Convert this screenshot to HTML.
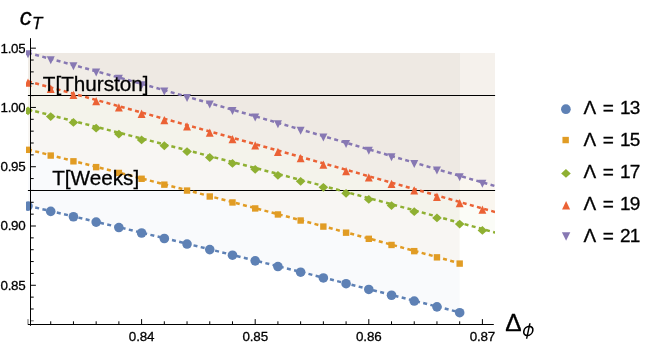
<!DOCTYPE html><html><head><meta charset="utf-8"><title>plot</title><style>
html,body{margin:0;padding:0;background:#fff}
#c{position:relative;width:651px;height:346px;overflow:hidden;background:#fff;font-family:"Liberation Sans",sans-serif;color:#000}
.t{position:absolute;white-space:nowrap;line-height:1;will-change:transform;-webkit-text-stroke:0.3px #000}
</style></head><body><div id="c">
<svg width="651" height="346" viewBox="0 0 651 346" style="position:absolute;left:0;top:0">
<defs><clipPath id="cp"><rect x="26.0" y="40" width="468.9" height="290"/></clipPath></defs>
<g clip-path="url(#cp)">
<path d="M28.00 205.81 L50.72 211.10 L73.44 216.44 L96.16 221.82 L118.88 227.24 L141.60 232.71 L164.32 238.21 L187.04 243.75 L209.76 249.32 L232.48 254.93 L255.20 260.57 L277.92 266.23 L300.64 271.93 L323.36 277.65 L346.08 283.39 L368.80 289.16 L391.52 294.94 L414.24 300.75 L436.96 306.57 L459.68 312.40 L459.68 53.0 L28.00 53.0 Z" fill="#5e81b5" fill-opacity="0.038"/>
<path d="M28.00 149.53 L50.72 155.26 L73.44 161.02 L96.16 166.81 L118.88 172.63 L141.60 178.47 L164.32 184.35 L187.04 190.26 L209.76 196.19 L232.48 202.15 L255.20 208.14 L277.92 214.16 L300.64 220.21 L323.36 226.28 L346.08 232.38 L368.80 238.51 L391.52 244.66 L414.24 250.85 L436.96 257.05 L459.68 263.29 L459.68 53.0 L28.00 53.0 Z" fill="#e19c24" fill-opacity="0.038"/>
<path d="M28.00 109.43 L50.72 115.23 L73.44 121.04 L96.16 126.86 L118.88 132.69 L141.60 138.53 L164.32 144.39 L187.04 150.26 L209.76 156.15 L232.48 162.06 L255.20 168.00 L277.92 173.96 L300.64 179.95 L323.36 185.96 L346.08 192.01 L368.80 198.09 L391.52 204.20 L414.24 210.35 L436.96 216.54 L459.68 222.77 L482.40 229.05 L505.12 235.36 L505.12 53.0 L28.00 53.0 Z" fill="#8fb032" fill-opacity="0.038"/>
<path d="M28.00 81.32 L50.72 87.50 L73.44 93.71 L96.16 99.95 L118.88 106.21 L141.60 112.49 L164.32 118.79 L187.04 125.11 L209.76 131.45 L232.48 137.80 L255.20 144.17 L277.92 150.56 L300.64 156.95 L323.36 163.36 L346.08 169.78 L368.80 176.21 L391.52 182.64 L414.24 189.08 L436.96 195.52 L459.68 201.97 L459.68 53.0 L28.00 53.0 Z" fill="#f1ede7"/>
<path d="M459.68 201.97 L482.40 208.42 L505.12 214.86 L505.12 53.0 L459.68 53.0 Z" fill="#eb6235" fill-opacity="0.038"/>
<path d="M28.00 52.83 L50.72 58.89 L73.44 65.03 L96.16 71.25 L118.88 77.53 L141.60 83.87 L164.32 90.27 L187.04 96.72 L209.76 103.21 L232.48 109.74 L255.20 116.30 L277.92 122.89 L300.64 129.50 L323.36 136.12 L346.08 142.75 L368.80 149.39 L391.52 156.02 L414.24 162.65 L436.96 169.26 L459.68 175.85 L459.68 53.0 L28.00 53.0 Z" fill="#eee9e3"/>
<path d="M459.68 175.85 L482.40 182.42 L505.12 188.96 L505.12 53.0 L459.68 53.0 Z" fill="#8778b3" fill-opacity="0.038"/>
</g>
<path d="M27.9 95.5H495.09999999999997" stroke="#000" stroke-width="1"/>
<path d="M27.9 190.5H495.09999999999997" stroke="#000" stroke-width="1"/>
<g clip-path="url(#cp)">
<path d="M28.00 205.81 L50.72 211.10 L73.44 216.44 L96.16 221.82 L118.88 227.24 L141.60 232.71 L164.32 238.21 L187.04 243.75 L209.76 249.32 L232.48 254.93 L255.20 260.57 L277.92 266.23 L300.64 271.93 L323.36 277.65 L346.08 283.39 L368.80 289.16 L391.52 294.94 L414.24 300.75 L436.96 306.57 L459.68 312.40" fill="none" stroke="#5e81b5" stroke-width="2.5" stroke-dasharray="4 3.4"/>
<circle cx="28.00" cy="206.11" r="4.80" fill="#5e81b5"/>
<circle cx="50.72" cy="211.40" r="4.80" fill="#5e81b5"/>
<circle cx="73.44" cy="216.74" r="4.80" fill="#5e81b5"/>
<circle cx="96.16" cy="222.12" r="4.80" fill="#5e81b5"/>
<circle cx="118.88" cy="227.54" r="4.80" fill="#5e81b5"/>
<circle cx="141.60" cy="233.01" r="4.80" fill="#5e81b5"/>
<circle cx="164.32" cy="238.51" r="4.80" fill="#5e81b5"/>
<circle cx="187.04" cy="244.05" r="4.80" fill="#5e81b5"/>
<circle cx="209.76" cy="249.62" r="4.80" fill="#5e81b5"/>
<circle cx="232.48" cy="255.23" r="4.80" fill="#5e81b5"/>
<circle cx="255.20" cy="260.87" r="4.80" fill="#5e81b5"/>
<circle cx="277.92" cy="266.53" r="4.80" fill="#5e81b5"/>
<circle cx="300.64" cy="272.23" r="4.80" fill="#5e81b5"/>
<circle cx="323.36" cy="277.95" r="4.80" fill="#5e81b5"/>
<circle cx="346.08" cy="283.69" r="4.80" fill="#5e81b5"/>
<circle cx="368.80" cy="289.46" r="4.80" fill="#5e81b5"/>
<circle cx="391.52" cy="295.24" r="4.80" fill="#5e81b5"/>
<circle cx="414.24" cy="301.05" r="4.80" fill="#5e81b5"/>
<circle cx="436.96" cy="306.87" r="4.80" fill="#5e81b5"/>
<circle cx="459.68" cy="312.70" r="4.80" fill="#5e81b5"/>
<path d="M28.00 149.53 L50.72 155.26 L73.44 161.02 L96.16 166.81 L118.88 172.63 L141.60 178.47 L164.32 184.35 L187.04 190.26 L209.76 196.19 L232.48 202.15 L255.20 208.14 L277.92 214.16 L300.64 220.21 L323.36 226.28 L346.08 232.38 L368.80 238.51 L391.52 244.66 L414.24 250.85 L436.96 257.05 L459.68 263.29" fill="none" stroke="#e19c24" stroke-width="2.5" stroke-dasharray="4 3.4"/>
<rect x="24.80" y="146.63" width="6.40" height="6.40" fill="#e19c24"/>
<rect x="47.52" y="152.36" width="6.40" height="6.40" fill="#e19c24"/>
<rect x="70.24" y="158.12" width="6.40" height="6.40" fill="#e19c24"/>
<rect x="92.96" y="163.91" width="6.40" height="6.40" fill="#e19c24"/>
<rect x="115.68" y="169.73" width="6.40" height="6.40" fill="#e19c24"/>
<rect x="138.40" y="175.57" width="6.40" height="6.40" fill="#e19c24"/>
<rect x="161.12" y="181.45" width="6.40" height="6.40" fill="#e19c24"/>
<rect x="183.84" y="187.36" width="6.40" height="6.40" fill="#e19c24"/>
<rect x="206.56" y="193.29" width="6.40" height="6.40" fill="#e19c24"/>
<rect x="229.28" y="199.25" width="6.40" height="6.40" fill="#e19c24"/>
<rect x="252.00" y="205.24" width="6.40" height="6.40" fill="#e19c24"/>
<rect x="274.72" y="211.26" width="6.40" height="6.40" fill="#e19c24"/>
<rect x="297.44" y="217.31" width="6.40" height="6.40" fill="#e19c24"/>
<rect x="320.16" y="223.38" width="6.40" height="6.40" fill="#e19c24"/>
<rect x="342.88" y="229.48" width="6.40" height="6.40" fill="#e19c24"/>
<rect x="365.60" y="235.61" width="6.40" height="6.40" fill="#e19c24"/>
<rect x="388.32" y="241.76" width="6.40" height="6.40" fill="#e19c24"/>
<rect x="411.04" y="247.95" width="6.40" height="6.40" fill="#e19c24"/>
<rect x="433.76" y="254.15" width="6.40" height="6.40" fill="#e19c24"/>
<rect x="456.48" y="260.39" width="6.40" height="6.40" fill="#e19c24"/>
<path d="M28.00 109.43 L50.72 115.23 L73.44 121.04 L96.16 126.86 L118.88 132.69 L141.60 138.53 L164.32 144.39 L187.04 150.26 L209.76 156.15 L232.48 162.06 L255.20 168.00 L277.92 173.96 L300.64 179.95 L323.36 185.96 L346.08 192.01 L368.80 198.09 L391.52 204.20 L414.24 210.35 L436.96 216.54 L459.68 222.77 L482.40 229.05 L505.12 235.36" fill="none" stroke="#8fb032" stroke-width="2.5" stroke-dasharray="4 3.4"/>
<path d="M23.20 110.78L28.00 106.38L32.80 110.78L28.00 115.18Z" fill="#8fb032"/>
<path d="M45.92 116.58L50.72 112.18L55.52 116.58L50.72 120.98Z" fill="#8fb032"/>
<path d="M68.64 122.39L73.44 117.99L78.24 122.39L73.44 126.79Z" fill="#8fb032"/>
<path d="M91.36 128.21L96.16 123.81L100.96 128.21L96.16 132.61Z" fill="#8fb032"/>
<path d="M114.08 134.04L118.88 129.64L123.68 134.04L118.88 138.44Z" fill="#8fb032"/>
<path d="M136.80 139.88L141.60 135.48L146.40 139.88L141.60 144.28Z" fill="#8fb032"/>
<path d="M159.52 145.74L164.32 141.34L169.12 145.74L164.32 150.14Z" fill="#8fb032"/>
<path d="M182.24 151.61L187.04 147.21L191.84 151.61L187.04 156.01Z" fill="#8fb032"/>
<path d="M204.96 157.50L209.76 153.10L214.56 157.50L209.76 161.90Z" fill="#8fb032"/>
<path d="M227.68 163.41L232.48 159.01L237.28 163.41L232.48 167.81Z" fill="#8fb032"/>
<path d="M250.40 169.35L255.20 164.95L260.00 169.35L255.20 173.75Z" fill="#8fb032"/>
<path d="M273.12 175.31L277.92 170.91L282.72 175.31L277.92 179.71Z" fill="#8fb032"/>
<path d="M295.84 181.30L300.64 176.90L305.44 181.30L300.64 185.70Z" fill="#8fb032"/>
<path d="M318.56 187.31L323.36 182.91L328.16 187.31L323.36 191.71Z" fill="#8fb032"/>
<path d="M341.28 193.36L346.08 188.96L350.88 193.36L346.08 197.76Z" fill="#8fb032"/>
<path d="M364.00 199.44L368.80 195.04L373.60 199.44L368.80 203.84Z" fill="#8fb032"/>
<path d="M386.72 205.55L391.52 201.15L396.32 205.55L391.52 209.95Z" fill="#8fb032"/>
<path d="M409.44 211.70L414.24 207.30L419.04 211.70L414.24 216.10Z" fill="#8fb032"/>
<path d="M432.16 217.89L436.96 213.49L441.76 217.89L436.96 222.29Z" fill="#8fb032"/>
<path d="M454.88 224.12L459.68 219.72L464.48 224.12L459.68 228.52Z" fill="#8fb032"/>
<path d="M477.60 230.40L482.40 226.00L487.20 230.40L482.40 234.80Z" fill="#8fb032"/>
<path d="M500.32 236.71L505.12 232.31L509.92 236.71L505.12 241.11Z" fill="#8fb032"/>
<path d="M28.00 81.32 L50.72 87.50 L73.44 93.71 L96.16 99.95 L118.88 106.21 L141.60 112.49 L164.32 118.79 L187.04 125.11 L209.76 131.45 L232.48 137.80 L255.20 144.17 L277.92 150.56 L300.64 156.95 L323.36 163.36 L346.08 169.78 L368.80 176.21 L391.52 182.64 L414.24 189.08 L436.96 195.52 L459.68 201.97 L482.40 208.42 L505.12 214.86" fill="none" stroke="#eb6235" stroke-width="2.5" stroke-dasharray="4 3.4"/>
<path d="M24.05 86.72L31.95 86.72L28.00 78.42Z" fill="#eb6235"/>
<path d="M46.77 92.90L54.67 92.90L50.72 84.60Z" fill="#eb6235"/>
<path d="M69.49 99.11L77.39 99.11L73.44 90.81Z" fill="#eb6235"/>
<path d="M92.21 105.35L100.11 105.35L96.16 97.05Z" fill="#eb6235"/>
<path d="M114.93 111.61L122.83 111.61L118.88 103.31Z" fill="#eb6235"/>
<path d="M137.65 117.89L145.55 117.89L141.60 109.59Z" fill="#eb6235"/>
<path d="M160.37 124.19L168.27 124.19L164.32 115.89Z" fill="#eb6235"/>
<path d="M183.09 130.51L190.99 130.51L187.04 122.21Z" fill="#eb6235"/>
<path d="M205.81 136.85L213.71 136.85L209.76 128.55Z" fill="#eb6235"/>
<path d="M228.53 143.20L236.43 143.20L232.48 134.90Z" fill="#eb6235"/>
<path d="M251.25 149.57L259.15 149.57L255.20 141.27Z" fill="#eb6235"/>
<path d="M273.97 155.96L281.87 155.96L277.92 147.66Z" fill="#eb6235"/>
<path d="M296.69 162.35L304.59 162.35L300.64 154.05Z" fill="#eb6235"/>
<path d="M319.41 168.76L327.31 168.76L323.36 160.46Z" fill="#eb6235"/>
<path d="M342.13 175.18L350.03 175.18L346.08 166.88Z" fill="#eb6235"/>
<path d="M364.85 181.61L372.75 181.61L368.80 173.31Z" fill="#eb6235"/>
<path d="M387.57 188.04L395.47 188.04L391.52 179.74Z" fill="#eb6235"/>
<path d="M410.29 194.48L418.19 194.48L414.24 186.18Z" fill="#eb6235"/>
<path d="M433.01 200.92L440.91 200.92L436.96 192.62Z" fill="#eb6235"/>
<path d="M455.73 207.37L463.63 207.37L459.68 199.07Z" fill="#eb6235"/>
<path d="M478.45 213.82L486.35 213.82L482.40 205.52Z" fill="#eb6235"/>
<path d="M501.17 220.26L509.07 220.26L505.12 211.96Z" fill="#eb6235"/>
<path d="M28.00 52.83 L50.72 58.89 L73.44 65.03 L96.16 71.25 L118.88 77.53 L141.60 83.87 L164.32 90.27 L187.04 96.72 L209.76 103.21 L232.48 109.74 L255.20 116.30 L277.92 122.89 L300.64 129.50 L323.36 136.12 L346.08 142.75 L368.80 149.39 L391.52 156.02 L414.24 162.65 L436.96 169.26 L459.68 175.85 L482.40 182.42 L505.12 188.96" fill="none" stroke="#8778b3" stroke-width="2.5" stroke-dasharray="4 3.4"/>
<path d="M24.00 50.13L32.00 50.13L28.00 58.13Z" fill="#8778b3"/>
<path d="M46.72 56.19L54.72 56.19L50.72 64.19Z" fill="#8778b3"/>
<path d="M69.44 62.33L77.44 62.33L73.44 70.33Z" fill="#8778b3"/>
<path d="M92.16 68.55L100.16 68.55L96.16 76.55Z" fill="#8778b3"/>
<path d="M114.88 74.83L122.88 74.83L118.88 82.83Z" fill="#8778b3"/>
<path d="M137.60 81.17L145.60 81.17L141.60 89.17Z" fill="#8778b3"/>
<path d="M160.32 87.57L168.32 87.57L164.32 95.57Z" fill="#8778b3"/>
<path d="M183.04 94.02L191.04 94.02L187.04 102.02Z" fill="#8778b3"/>
<path d="M205.76 100.51L213.76 100.51L209.76 108.51Z" fill="#8778b3"/>
<path d="M228.48 107.04L236.48 107.04L232.48 115.04Z" fill="#8778b3"/>
<path d="M251.20 113.60L259.20 113.60L255.20 121.60Z" fill="#8778b3"/>
<path d="M273.92 120.19L281.92 120.19L277.92 128.19Z" fill="#8778b3"/>
<path d="M296.64 126.80L304.64 126.80L300.64 134.80Z" fill="#8778b3"/>
<path d="M319.36 133.42L327.36 133.42L323.36 141.42Z" fill="#8778b3"/>
<path d="M342.08 140.05L350.08 140.05L346.08 148.05Z" fill="#8778b3"/>
<path d="M364.80 146.69L372.80 146.69L368.80 154.69Z" fill="#8778b3"/>
<path d="M387.52 153.32L395.52 153.32L391.52 161.32Z" fill="#8778b3"/>
<path d="M410.24 159.95L418.24 159.95L414.24 167.95Z" fill="#8778b3"/>
<path d="M432.96 166.56L440.96 166.56L436.96 174.56Z" fill="#8778b3"/>
<path d="M455.68 173.15L463.68 173.15L459.68 181.15Z" fill="#8778b3"/>
<path d="M478.40 179.72L486.40 179.72L482.40 187.72Z" fill="#8778b3"/>
<path d="M501.12 186.26L509.12 186.26L505.12 194.26Z" fill="#8778b3"/>
</g>
<g stroke="#000" stroke-width="1" fill="none">
<path d="M30.5 38.2V325.8"/>
<path d="M27.9 324.5H493.8"/>
<path d="M30.5 48.17H35.90"/>
<path d="M30.5 60.03H33.70"/>
<path d="M30.5 71.89H33.70"/>
<path d="M30.5 83.74H33.70"/>
<path d="M30.5 95.59H33.70"/>
<path d="M30.5 107.45H35.90"/>
<path d="M30.5 119.31H33.70"/>
<path d="M30.5 131.16H33.70"/>
<path d="M30.5 143.01H33.70"/>
<path d="M30.5 154.87H33.70"/>
<path d="M30.5 166.73H35.90"/>
<path d="M30.5 178.58H33.70"/>
<path d="M30.5 190.44H33.70"/>
<path d="M30.5 202.29H33.70"/>
<path d="M30.5 214.15H33.70"/>
<path d="M30.5 226.00H35.90"/>
<path d="M30.5 237.86H33.70"/>
<path d="M30.5 249.71H33.70"/>
<path d="M30.5 261.56H33.70"/>
<path d="M30.5 273.42H33.70"/>
<path d="M30.5 285.28H35.90"/>
<path d="M30.5 297.13H33.70"/>
<path d="M30.5 308.99H33.70"/>
<path d="M30.5 320.84H33.70" stroke-opacity="0.6"/>
<path d="M28.00 324.5V319.10" stroke-opacity="0.6"/>
<path d="M50.72 324.5V321.30"/>
<path d="M73.44 324.5V321.30"/>
<path d="M96.16 324.5V321.30"/>
<path d="M118.88 324.5V321.30"/>
<path d="M141.60 324.5V319.10"/>
<path d="M164.32 324.5V321.30"/>
<path d="M187.04 324.5V321.30"/>
<path d="M209.76 324.5V321.30"/>
<path d="M232.48 324.5V321.30"/>
<path d="M255.20 324.5V319.10"/>
<path d="M277.92 324.5V321.30"/>
<path d="M300.64 324.5V321.30"/>
<path d="M323.36 324.5V321.30"/>
<path d="M346.08 324.5V321.30"/>
<path d="M368.80 324.5V319.10"/>
<path d="M391.52 324.5V321.30"/>
<path d="M414.24 324.5V321.30"/>
<path d="M436.96 324.5V321.30"/>
<path d="M459.68 324.5V321.30"/>
<path d="M482.40 324.5V319.10"/>
</g>
<circle cx="565.90" cy="109.20" r="4.85" fill="#5e81b5"/>
<rect x="562.45" y="136.85" width="6.40" height="6.40" fill="#e19c24"/>
<path d="M561.16 173.40L565.96 169.00L570.76 173.40L565.96 177.80Z" fill="#8fb032"/>
<path d="M562.07 209.53L570.13 209.53L566.10 201.07Z" fill="#eb6235"/>
<path d="M561.86 232.36L570.34 232.36L566.10 240.84Z" fill="#8778b3"/>
<g transform="translate(528.3,330.9) skewX(-12)" fill="none" stroke="#000" stroke-width="1.6"><ellipse cx="0" cy="0" rx="4.45" ry="4.55"/><path d="M0 -7.7V7.9" stroke-width="1.45"/></g>
</svg>
<div class="t" style="left:-15px;top:41px;font-size:13.4px;width:40px;text-align:right;transform:translate(0.40px,0.77px);letter-spacing:-0.3px;">1.05</div>
<div class="t" style="left:-15px;top:100px;font-size:13.4px;width:40px;text-align:right;transform:translate(0.40px,0.54px);letter-spacing:-0.3px;">1.00</div>
<div class="t" style="left:-15px;top:160px;font-size:13.4px;width:40px;text-align:right;transform:translate(0.40px,0.22px);letter-spacing:-0.3px;">0.95</div>
<div class="t" style="left:-15px;top:219px;font-size:13.4px;width:40px;text-align:right;transform:translate(0.40px,0.49px);letter-spacing:-0.3px;">0.90</div>
<div class="t" style="left:-15px;top:278px;font-size:13.4px;width:40px;text-align:right;transform:translate(0.40px,0.57px);letter-spacing:-0.3px;">0.85</div>
<div class="t" style="left:121px;top:329px;font-size:13.4px;width:40px;text-align:center;transform:translate(0.60px,0.96px);letter-spacing:-0.15px;">0.84</div>
<div class="t" style="left:235px;top:329px;font-size:13.4px;width:40px;text-align:center;transform:translate(0.20px,0.96px);letter-spacing:-0.15px;">0.85</div>
<div class="t" style="left:348px;top:329px;font-size:13.4px;width:40px;text-align:center;transform:translate(0.80px,0.96px);letter-spacing:-0.15px;">0.86</div>
<div class="t" style="left:462px;top:329px;font-size:13.4px;width:40px;text-align:center;transform:translate(0.40px,0.96px);letter-spacing:-0.15px;">0.87</div>
<div class="t" style="left:583px;top:97px;font-size:19px;transform:translate(0.60px,0.77px);">&Lambda;<span style="word-spacing:1.2px"> </span>=<span style="word-spacing:0.9px"> </span><span style="letter-spacing:-0.9px">13</span></div>
<div class="t" style="left:583px;top:129px;font-size:19px;transform:translate(0.60px,0.77px);">&Lambda;<span style="word-spacing:1.2px"> </span>=<span style="word-spacing:0.9px"> </span><span style="letter-spacing:-0.9px">15</span></div>
<div class="t" style="left:583px;top:161px;font-size:19px;transform:translate(0.60px,0.77px);">&Lambda;<span style="word-spacing:1.2px"> </span>=<span style="word-spacing:0.9px"> </span><span style="letter-spacing:-0.9px">17</span></div>
<div class="t" style="left:583px;top:193px;font-size:19px;transform:translate(0.60px,0.77px);">&Lambda;<span style="word-spacing:1.2px"> </span>=<span style="word-spacing:0.9px"> </span><span style="letter-spacing:-0.9px">19</span></div>
<div class="t" style="left:583px;top:225px;font-size:19px;transform:translate(0.60px,0.77px);">&Lambda;<span style="word-spacing:1.2px"> </span>=<span style="word-spacing:0.9px"> </span><span style="letter-spacing:-0.9px">21</span></div>
<div class="t" style="left:42px;top:73px;font-size:20.7px;transform:translate(0.80px,0.53px);">T[Thurston]</div>
<div class="t" style="left:52px;top:168px;font-size:20.7px;transform:translate(0.20px,0.48px);">T[Weeks]</div>
<div class="t" style="left:19px;top:5px;font-size:24px;transform:translate(0.70px,0.08px);font-style:italic;">c<span style="font-size:17px;position:relative;top:4px;left:0.2px">T</span></div>
<div class="t" style="left:505px;top:311px;font-size:24.5px;transform:translate(0.20px,0.16px);">&Delta;</div>
</div></body></html>
